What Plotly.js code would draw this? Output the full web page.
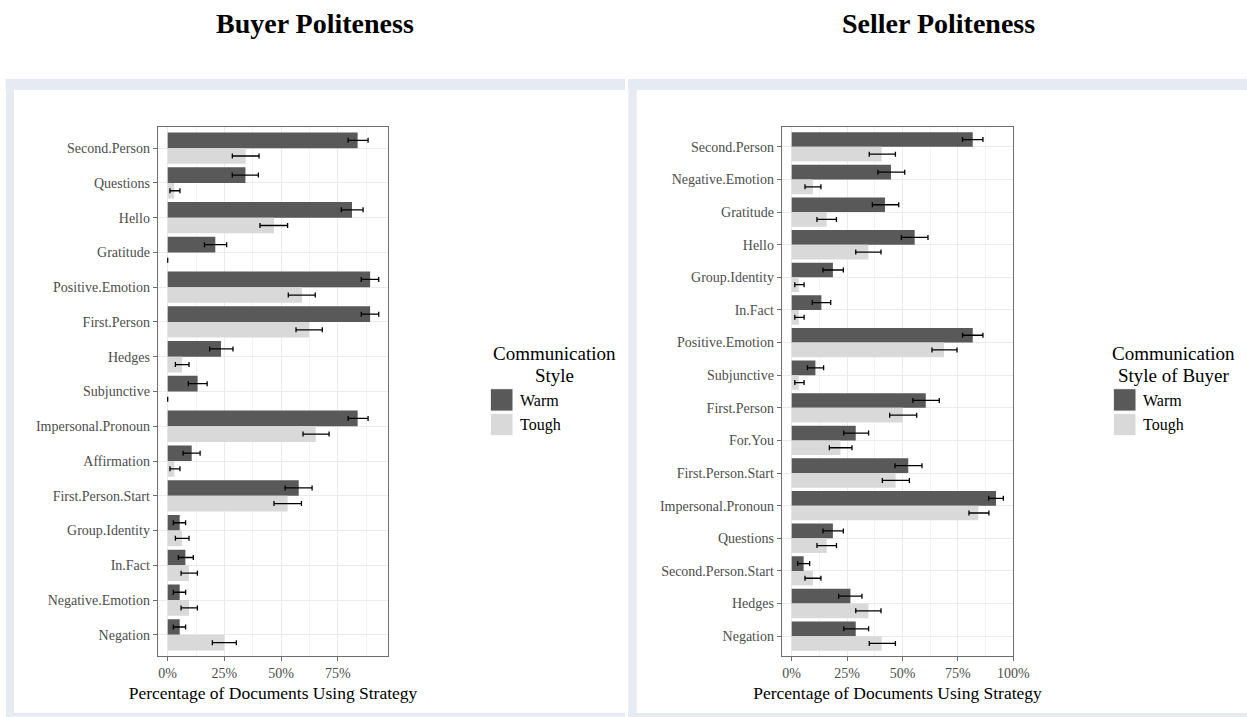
<!DOCTYPE html>
<html>
<head>
<meta charset="utf-8">
<script src="https://cdn.plot.ly/plotly-3.0.1.min.js"></script>
<style>
  html, body { margin: 0; padding: 0; background: #ffffff; }
  #chart { width: 1247px; height: 717px; }
</style>
</head>
<body>
<div id="chart"></div>
<script>
// Buyer politeness strategies (top to bottom) and share of documents (%)
const buyerCats = ['Second.Person', 'Questions', 'Hello', 'Gratitude', 'Positive.Emotion',
  'First.Person', 'Hedges', 'Subjunctive', 'Impersonal.Pronoun', 'Affirmation',
  'First.Person.Start', 'Group.Identity', 'In.Fact', 'Negative.Emotion', 'Negation'];
const buyerWarm   = [83.8, 34.3, 81.3, 21.0, 89.3, 89.3, 23.5, 13.2, 83.8, 10.6, 57.8, 5.3, 7.8, 5.3, 5.3];
const buyerWarmLo = [79.6, 28.5, 76.6, 16.2, 85.4, 85.4, 18.5, 9.1, 79.6, 6.8, 51.8, 2.5, 4.7, 2.5, 2.5];
const buyerWarmHi = [88.4, 40.0, 86.2, 26.0, 93.1, 93.1, 28.8, 17.4, 88.4, 14.3, 63.7, 7.9, 11.3, 7.9, 7.9];
const buyerTough   = [34.4, 2.9, 46.9, 0, 59.3, 62.4, 6.3, 0, 65.3, 2.9, 52.9, 6.3, 9.4, 9.4, 25.0];
const buyerToughLo = [28.5, 1.0, 40.7, 0, 53.2, 56.6, 3.4, 0, 59.7, 1.0, 46.9, 3.4, 5.9, 5.9, 19.7];
const buyerToughHi = [40.3, 5.4, 52.9, 0, 65.1, 68.2, 9.4, 0, 71.2, 5.4, 59.0, 9.4, 13.1, 13.1, 30.3];

// Seller politeness strategies, split by the buyer's communication style
const sellerCats = ['Second.Person', 'Negative.Emotion', 'Gratitude', 'Hello', 'Group.Identity',
  'In.Fact', 'Positive.Emotion', 'Subjunctive', 'First.Person', 'For.You', 'First.Person.Start',
  'Impersonal.Pronoun', 'Questions', 'Second.Person.Start', 'Hedges', 'Negation'];
const sellerWarm   = [81.7, 44.8, 42.1, 55.5, 18.6, 13.4, 81.7, 10.7, 60.5, 28.9, 52.6, 92.2, 18.6, 5.4, 26.5, 28.9];
const sellerWarmLo = [77.1, 38.9, 36.4, 49.5, 14.1, 9.3, 77.1, 7.1, 54.7, 23.5, 46.6, 88.9, 14.1, 2.7, 21.2, 23.5];
const sellerWarmHi = [86.3, 51.0, 48.3, 61.5, 23.3, 17.6, 86.3, 14.4, 66.6, 34.7, 58.8, 95.5, 23.3, 8.1, 31.7, 34.7];
const sellerTough   = [40.6, 9.6, 15.8, 34.6, 3.2, 3.2, 68.7, 3.2, 50.1, 22.0, 46.9, 84.2, 15.8, 9.6, 34.6, 40.6];
const sellerToughLo = [35.0, 6.0, 11.4, 28.9, 1.4, 1.4, 63.3, 1.4, 44.2, 17.0, 40.9, 80.0, 11.4, 6.0, 28.9, 35.0];
const sellerToughHi = [46.8, 13.2, 20.2, 40.3, 5.6, 5.6, 74.6, 5.6, 56.4, 27.2, 53.1, 89.0, 20.2, 13.2, 40.3, 46.8];

// Axis ticks and labels
const buyerTicks = [0, 25, 50, 75];
const sellerTicks = [0, 25, 50, 75, 100];
const minorTicks = [12.5, 37.5, 62.5, 87.5];
const styleNames = ['Warm', 'Tough'];
const panelTitles = ['Buyer Politeness', 'Seller Politeness'];
const legendTitles = [['Communication', 'Style'], ['Communication', 'Style of Buyer']];
const xTitle = 'Percentage of Documents Using Strategy';

const W = 1247, H = 717;
const px = v => v / W;
const py = v => 1 - v / H;
const SERIF = 'Liberation Serif, Times New Roman, serif';
const FILLS = ['#595959', '#d9d9d9'];
const BAND = '#e6ebf3';

function barTrace(name, cats, vals, lo, hi, color, xa, ya) {
  return {
    type: 'bar', orientation: 'h', name: name,
    y: cats, x: vals, xaxis: xa, yaxis: ya,
    marker: { color: color, line: { width: 0 } },
    error_x: {
      type: 'data', symmetric: false,
      array: hi.map((h, i) => +(h - vals[i]).toFixed(2)),
      arrayminus: lo.map((l, i) => +(vals[i] - l).toFixed(2)),
      color: '#000000', thickness: 1.3, width: 2.5
    },
    showlegend: false, hoverinfo: 'x+y+name'
  };
}

const data = [
  barTrace(styleNames[0], buyerCats, buyerWarm, buyerWarmLo, buyerWarmHi, FILLS[0], 'x', 'y'),
  barTrace(styleNames[1], buyerCats, buyerTough, buyerToughLo, buyerToughHi, FILLS[1], 'x', 'y'),
  barTrace(styleNames[0], sellerCats, sellerWarm, sellerWarmLo, sellerWarmHi, FILLS[0], 'x2', 'y2'),
  barTrace(styleNames[1], sellerCats, sellerTough, sellerToughLo, sellerToughHi, FILLS[1], 'x2', 'y2')
];

function xAxis(domain, range, ticks, anchor) {
  return {
    domain: domain, range: range, anchor: anchor,
    tickmode: 'array', tickvals: ticks, ticktext: ticks.map(t => t + '%'),
    ticks: 'outside', ticklen: 4, tickwidth: 1, tickcolor: '#6e6e6e',
    tickfont: { family: SERIF, size: 14, color: '#4d4d4d' },
    showgrid: true, gridcolor: '#ebebeb', gridwidth: 1,
    minor: { tickmode: 'array', tickvals: minorTicks, showgrid: true, gridcolor: '#f3f3f3', gridwidth: 0.6, ticks: '' },
    zeroline: false,
    showline: true, mirror: true, linecolor: '#6e6e6e', linewidth: 1,
    title: { text: xTitle, standoff: 7, font: { family: SERIF, size: 17.5, color: '#000000' } },
    fixedrange: true
  };
}

function yAxis(domain, cats, anchor) {
  return {
    domain: domain, anchor: anchor, type: 'category',
    categoryorder: 'array', categoryarray: cats,
    range: [cats.length - 0.4, -0.6],
    ticks: 'outside', ticklen: 4, tickwidth: 1, tickcolor: '#6e6e6e',
    tickfont: { family: SERIF, size: 14, color: '#4d4d4d' },
    showgrid: true, gridcolor: '#ebebeb', gridwidth: 1,
    zeroline: false,
    showline: true, mirror: true, linecolor: '#6e6e6e', linewidth: 1,
    fixedrange: true
  };
}

const yDom = [py(655.7), py(127.3)];

// Light frame strips around each panel
const strips = [
  [5.5, 79, 625, 90], [6, 79, 14, 716.7], [6, 712.7, 625, 716.7],
  [628.3, 79, 1247, 90], [628.3, 79, 636.7, 717], [628.3, 713, 1247, 717]
];
const shapes = strips.map(r => ({
  type: 'rect', xref: 'paper', yref: 'paper', layer: 'below',
  x0: px(r[0]), x1: px(r[2]), y0: py(r[3]), y1: py(r[1]),
  fillcolor: BAND, line: { width: 0 }
}));

const annotations = [];
// Panel titles
[[315, panelTitles[0]], [939, panelTitles[1]]].forEach(([cx, t]) => {
  annotations.push({
    xref: 'paper', yref: 'paper', x: px(cx), y: py(24), xanchor: 'center', yanchor: 'middle',
    text: '<b>' + t + '</b>', showarrow: false,
    font: { family: SERIF, size: 28, color: '#000000' }
  });
});

// Hand-built legends with large swatches
[[554, 490.3, legendTitles[0]], [1173, 1113.3, legendTitles[1]]].forEach(([cx, sx, lines]) => {
  lines.forEach((ln, i) => {
    annotations.push({
      xref: 'paper', yref: 'paper', x: px(cx), y: py(353 + i * 22), xanchor: 'center', yanchor: 'middle',
      text: ln, showarrow: false, font: { family: SERIF, size: 19, color: '#000000' }
    });
  });
  styleNames.forEach((nm, i) => {
    const top = 388.7 + i * 24.6;
    shapes.push({
      type: 'rect', xref: 'paper', yref: 'paper',
      x0: px(sx), x1: px(sx + 22.7), y0: py(top + 22.4), y1: py(top),
      fillcolor: FILLS[i], line: { color: '#ffffff', width: 1 }
    });
    annotations.push({
      xref: 'paper', yref: 'paper', x: px(sx + 27.5), y: py(top + 11.5), xanchor: 'left', yanchor: 'middle',
      text: nm, showarrow: false, font: { family: SERIF, size: 16, color: '#000000' }
    });
  });
});

const layout = {
  width: W, height: H,
  margin: { l: 0, r: 0, t: 0, b: 0 },
  paper_bgcolor: '#ffffff', plot_bgcolor: '#ffffff',
  barmode: 'group', bargap: 0.1, bargroupgap: 0,
  showlegend: false,
  font: { family: SERIF },
  xaxis: xAxis([px(157.7), px(388.3)], [-4.41, 97.32], buyerTicks, 'y'),
  yaxis: yAxis(yDom, buyerCats, 'x'),
  xaxis2: xAxis([px(781.7), px(1013.3)], [-4.51, 100], sellerTicks, 'y2'),
  yaxis2: yAxis(yDom, sellerCats, 'x2'),
  shapes: shapes,
  annotations: annotations
};

Plotly.newPlot('chart', data, layout, { displayModeBar: false, staticPlot: false });
</script>
</body>
</html>
